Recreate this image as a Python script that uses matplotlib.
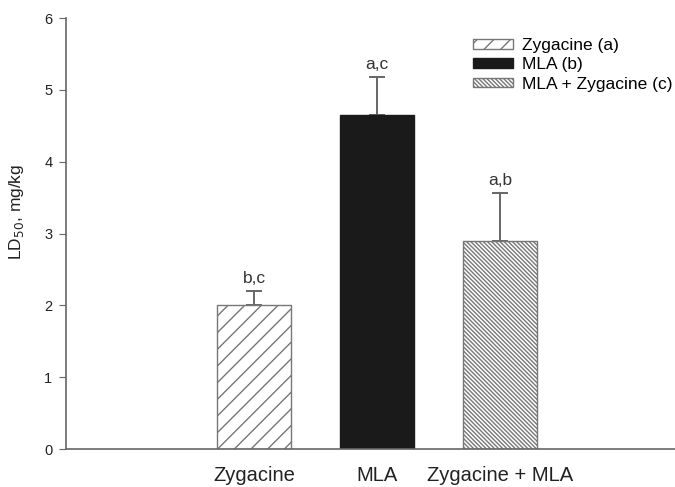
import numpy as np
import matplotlib.pyplot as plt

plt.rcParams['font.family'] = ['Liberation Sans', 'DejaVu Sans']
plt.rcParams['hatch.color'] = '#707070'
plt.rcParams['hatch.linewidth'] = 1.0

categories = ['Zygacine', 'MLA', 'Zygacine + MLA']
values = [2.0, 4.65, 2.89]
errors = [0.2, 0.53, 0.67]
letters = ['b,c', 'a,c', 'a,b']
legend_labels = ['Zygacine (a)', 'MLA (b)', 'MLA + Zygacine (c)']

fig = plt.figure(figsize=(6.75, 4.87), dpi=100)
ax = fig.add_axes([0.098, 0.078, 0.902, 0.885])

x = np.arange(len(categories))
faces = ['white', '#1a1a1a', 'white']
hatches = ['//', None, '\\' * 8]
edges = ['#777777', '#1a1a1a', '#777777']

for i in range(len(x)):
    ax.bar(x[i], values[i], width=0.6, color=faces[i], edgecolor=edges[i],
           hatch=hatches[i], linewidth=1.0, label=legend_labels[i], zorder=2)

ax.errorbar(x, values, yerr=[np.zeros(len(x)), errors], fmt='none',
            ecolor='#666666', elinewidth=1.4, capsize=5.5, capthick=1.4, zorder=1)

for i in range(len(x)):
    ax.text(x[i], values[i] + errors[i] + 0.07, letters[i], ha='center', va='bottom',
            fontsize=12.5, color='#333333')

ax.set_xlim(-1.53, 3.42)
ax.set_ylim(0, 6)
ax.set_xticks(x)
ax.set_xticklabels(categories, fontsize=14.5, color='#222222')
ax.tick_params(axis='x', length=0, pad=12)
ax.tick_params(axis='y', labelsize=10.5, colors='#222222', length=5, color='#666666', pad=5)
ax.set_yticks(range(0, 7))
ax.set_ylabel('LD$_{50}$, mg/kg', fontsize=12.5, color='#222222')
ax.yaxis.set_label_coords(-0.066, 0.55)

for s in ['top', 'right']:
    ax.spines[s].set_visible(False)
for s in ['left', 'bottom']:
    ax.spines[s].set_color('#666666')
    ax.spines[s].set_linewidth(1.2)

ax.legend(loc='upper right', bbox_to_anchor=(1.021, 0.99), frameon=False, fontsize=12.5,
          handlelength=2.3, handleheight=0.5, labelspacing=0.25, handletextpad=0.5)

fig.savefig('out.png', dpi=100)
